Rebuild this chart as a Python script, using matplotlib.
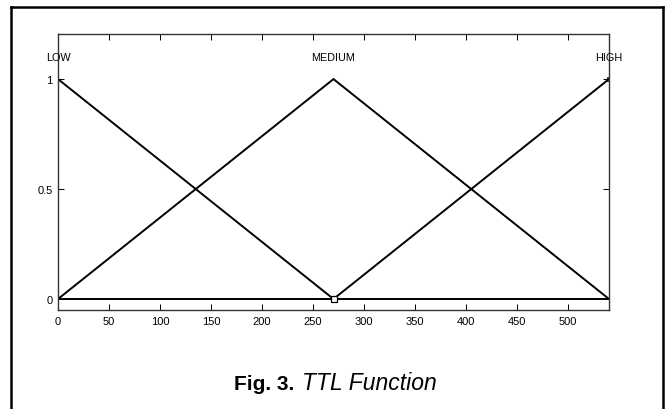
import matplotlib
matplotlib.use("Agg")
import matplotlib.pyplot as plt
from matplotlib.lines import Line2D

# membership functions of the TTL input
x_pts = [0, 270, 540]
low = [1, 0, 0]
medium = [0, 1, 0]
high = [0, 0, 1]
mf_names = ["LOW", "MEDIUM", "HIGH"]
mf_peaks = [0, 270, 540]

x_ticks = [0, 50, 100, 150, 200, 250, 300, 350, 400, 450, 500]
y_ticks = [0, 0.5, 1]
y_ticklabels = ["0", "0.5", "1"]

plt.rcParams['font.family'] = ['Liberation Sans', 'DejaVu Sans']

fig = plt.figure(figsize=(6.68, 4.10), dpi=100)
ax = fig.add_axes([58 / 668, 1 - 311 / 410, (609 - 58) / 668, (311 - 35) / 410])

for yv in (low, medium, high):
    ax.plot(x_pts, yv, color='black', lw=1.4, solid_joinstyle='miter')

# small square markers drawn by the mf plot
ax.plot([270], [0], marker='s', ms=4.5, mfc='white', mec='black', mew=0.9, ls='none')
ax.plot([540], [1], marker='s', ms=3, mfc='none', mec='black', mew=0.6, ls='none')

for name, xp in zip(mf_names, mf_peaks):
    ax.text(xp, 1.10, name, ha='center', va='center', fontsize=7.8, clip_on=False)

ax.set_xlim(0, 540)
ax.set_ylim(-0.05, 1.205)
ax.set_xticks(x_ticks)
ax.set_yticks(y_ticks)
ax.set_yticklabels(y_ticklabels)
ax.tick_params(direction='in', length=4, width=0.7, labelsize=8, pad=4,
               top=True, right=True)
for sp in ax.spines.values():
    sp.set_linewidth(1.0)
    sp.set_color('#333333')

# frame around the figure
fx0, fx1, fy1 = 11 / 668, 663 / 668, 1 - 8 / 410
fig.add_artist(Line2D([fx0, fx0], [0, fy1], color='black', lw=1.8, transform=fig.transFigure))
fig.add_artist(Line2D([fx0, fx1], [fy1, fy1], color='black', lw=1.8, transform=fig.transFigure))
fig.add_artist(Line2D([fx1, fx1], [0, fy1], color='black', lw=1.8, transform=fig.transFigure))

# caption
fig.text(294 / 668, 1 - 390 / 410, "Fig. 3.", ha='right', va='baseline',
         fontsize=15, fontweight='bold')
fig.text(302 / 668, 1 - 390 / 410, "TTL Function", ha='left', va='baseline',
         fontsize=16.5, fontstyle='italic')

plt.savefig("out.png", dpi=100)
